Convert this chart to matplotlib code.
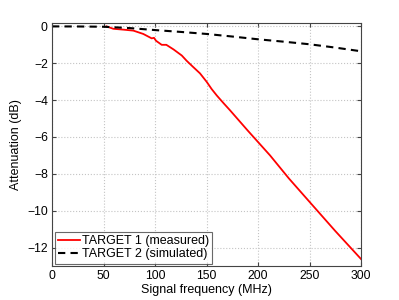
import matplotlib
matplotlib.use("Agg")
import matplotlib.pyplot as plt

plt.rcParams['font.family'] = ['Liberation Sans', 'DejaVu Sans']

t1_freq = [53, 59.5, 70, 79, 88.6, 96.8, 99, 101, 106.5, 111, 118, 126, 130.8, 137, 143.7, 150.2, 155, 160, 166.3, 172.8, 190, 211.7, 230, 250.5, 275, 300]
t1_att = [0.0, -0.13, -0.18, -0.23, -0.41, -0.65, -0.62, -0.78, -1.0, -1.0, -1.25, -1.58, -1.87, -2.2, -2.55, -3.01, -3.4, -3.75, -4.15, -4.55, -5.65, -7.0, -8.25, -9.55, -11.1, -12.62]

t2_freq = [0, 25, 50, 75, 100, 125, 150, 175, 200, 225, 250, 275, 300]
t2_att = [0.0, -0.005, -0.02, -0.09, -0.2, -0.3, -0.41, -0.55, -0.7, -0.83, -0.97, -1.15, -1.35]

x_ticks = [0, 50, 100, 150, 200, 250, 300]
y_ticks = [0, -2, -4, -6, -8, -10, -12]

fig = plt.figure(figsize=(3.99, 3.0), dpi=100)
ax = fig.add_axes([52/399, 1 - 266/300, (361-52)/399, (266-22.7)/300])
ax.plot(t1_freq, t1_att, color='#ff0000', lw=1.3, label='TARGET 1 (measured)')
ax.plot(t2_freq, t2_att, color='black', lw=1.5, ls=(0, (3.5, 2.5)), label='TARGET 2 (simulated)')
ax.set_xlim(0, 300)
ax.set_ylim(-13, 0.2)
ax.set_xticks(x_ticks)
ax.set_yticks(y_ticks)
ax.set_yticklabels(['0' if v == 0 else '\u2212' + str(-v) for v in y_ticks])
ax.tick_params(direction='in', top=True, right=True, labelsize=8.7, length=3, color='#444444', pad=3)
ax.grid(True, ls=':', color='#c4c4c4', lw=0.8)
for s in ax.spines.values():
    s.set_color('#444444')
    s.set_linewidth(0.8)
ax.set_xlabel('Signal frequency (MHz)', fontsize=9, labelpad=1)
ax.set_ylabel('Attenuation (dB)', fontsize=9, labelpad=4)
leg = ax.legend(loc='lower left', fontsize=9, frameon=True, fancybox=False, edgecolor='#444444',
                borderaxespad=0.2, handlelength=1.8, handletextpad=0.15, labelspacing=0.1, borderpad=0.25)
leg.get_frame().set_linewidth(0.8)
fig.savefig('out.png', dpi=100)
